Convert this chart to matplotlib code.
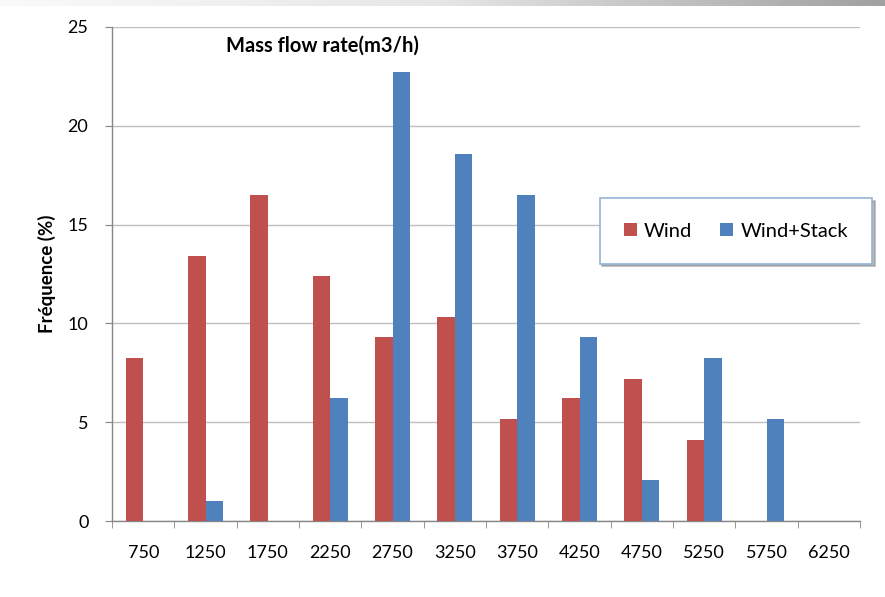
import numpy as np
import matplotlib
matplotlib.use("Agg")
import matplotlib.pyplot as plt
from matplotlib.colors import LinearSegmentedColormap

categories = ["750", "1250", "1750", "2250", "2750", "3250", "3750",
              "4250", "4750", "5250", "5750", "6250"]
wind = [8.25, 13.4, 16.5, 12.4, 9.3, 10.3, 5.15, 6.2, 7.2, 4.1, 0, 0]
wind_stack = [0, 1.03, 0, 6.2, 22.7, 18.55, 16.5, 9.3, 2.06, 8.25, 5.15, 0]
y_ticks = [0, 5, 10, 15, 20, 25]

plt.rcParams['font.family'] = ['Lato', 'DejaVu Sans']

fig = plt.figure(figsize=(8.85, 5.97), dpi=100)

# thin gradient band across the top of the figure
band = fig.add_axes([0, 0.99, 1, 0.01])
band.imshow(np.linspace(0, 1, 256)[None, :], aspect='auto',
            cmap=LinearSegmentedColormap.from_list('g', ['#fafafa', '#e6e6e6', '#a0a0a0']))
band.axis('off')

ax = fig.add_axes([0.1266, 0.1273, 0.8452, 0.8275])
x = np.arange(len(categories))
w = 0.28
red = '#C0504D'
blue = '#4F81BD'
ax.bar(x - w / 2, wind, width=w, color=red, label='Wind', zorder=3)
ax.bar(x + w / 2, wind_stack, width=w, color=blue, label='Wind+Stack', zorder=3)

ax.set_xlim(-0.5, len(categories) - 0.5)
ax.set_ylim(0, 25)
ax.set_yticks(y_ticks)
ax.set_xticks(x)
ax.set_xticklabels(categories)
ax.set_xticks(np.arange(-0.5, len(categories)), minor=True)
ax.tick_params(axis='x', which='major', length=0, pad=17, labelsize=13)
ax.tick_params(axis='x', which='minor', length=5, color='#868686')
ax.tick_params(axis='y', length=5, color='#868686', labelsize=13, pad=12)

ax.grid(axis='y', color='#BEBEBE', linewidth=1.0, zorder=0)
for s in ['top', 'right']:
    ax.spines[s].set_visible(False)
for s in ['left', 'bottom']:
    ax.spines[s].set_color('#868686')
    ax.spines[s].set_linewidth(1.0)

ax.set_ylabel('Fréquence (%)', fontsize=13.5, fontweight='bold', labelpad=8)
ax.text(0.281, 0.963, 'Mass flow rate(m3/h)', transform=ax.transAxes,
        ha='center', va='center', fontsize=14.5, fontweight='bold')

leg = fig.legend(loc='center', bbox_to_anchor=(0.8316, 0.613), ncol=2,
                 frameon=True, fancybox=False,
                 shadow={'color': '#8c8c8c', 'alpha': 0.6},
                 fontsize=14.5, handlelength=0.65, handleheight=0.65,
                 handletextpad=0.35, columnspacing=1.4, borderpad=1.2,
                 borderaxespad=0)
leg.get_frame().set_edgecolor('#95B3D7')
leg.get_frame().set_linewidth(1.2)

fig.savefig('out.png', dpi=100)
